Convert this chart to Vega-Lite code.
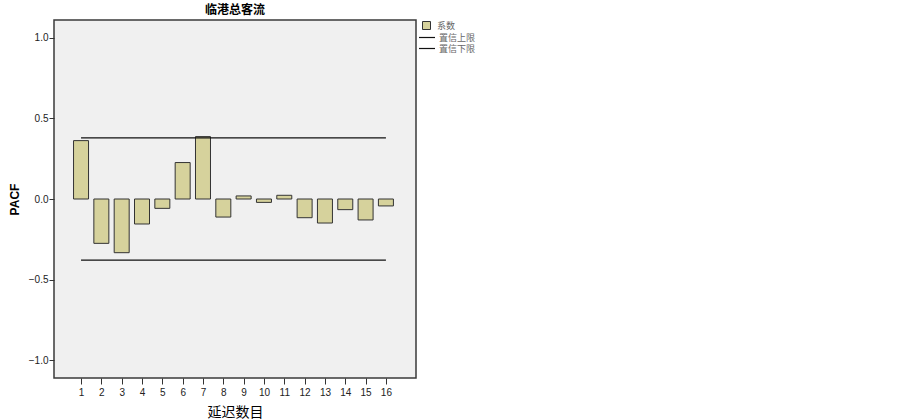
{
  "$schema": "https://vega.github.io/schema/vega-lite/v6.json",
  "autosize": "none",
  "width": 362,
  "height": 358,
  "padding": {"left": 54, "top": 20, "right": 487, "bottom": 42},
  "background": "#ffffff",
  "title": {"text": "临港总客流", "font": "Noto Sans CJK SC", "fontSize": 12, "fontWeight": "bold", "color": "#000000", "offset": 3},
  "datasets": {
    "pacf": [
      {"lag": 1, "pacf": 0.362},
      {"lag": 2, "pacf": -0.275},
      {"lag": 3, "pacf": -0.333},
      {"lag": 4, "pacf": -0.155},
      {"lag": 5, "pacf": -0.058},
      {"lag": 6, "pacf": 0.226},
      {"lag": 7, "pacf": 0.387},
      {"lag": 8, "pacf": -0.112},
      {"lag": 9, "pacf": 0.019},
      {"lag": 10, "pacf": -0.021},
      {"lag": 11, "pacf": 0.023},
      {"lag": 12, "pacf": -0.116},
      {"lag": 13, "pacf": -0.149},
      {"lag": 14, "pacf": -0.066},
      {"lag": 15, "pacf": -0.13},
      {"lag": 16, "pacf": -0.043}
    ],
    "limits": [
      {"lag": 1, "value": 0.379, "series": "置信上限"},
      {"lag": 16, "value": 0.379, "series": "置信上限"},
      {"lag": 1, "value": -0.379, "series": "置信下限"},
      {"lag": 16, "value": -0.379, "series": "置信下限"}
    ]
  },
  "layer": [
    {
      "data": {"name": "pacf"},
      "mark": {"type": "bar", "size": 15, "stroke": "#333333", "strokeWidth": 1},
      "encoding": {
        "x": {
          "field": "lag", "type": "quantitative",
          "scale": {"domain": [-0.33, 17.48], "nice": false, "zero": false, "padding": 0},
          "axis": {
            "values": [1,2,3,4,5,6,7,8,9,10,11,12,13,14,15,16], "tickCount": 40, "format": "d", "labelOverlap": false,
            "grid": false, "domain": false, "tickSize": 6, "tickColor": "#333333",
            "labelPadding": 3, "labelFont": "Liberation Sans", "labelFontSize": 10, "labelColor": "#222222",
            "title": "延迟数目", "titleFont": "Noto Sans CJK SC", "titleFontSize": 14, "titleFontWeight": "normal",
            "titleColor": "#000000", "titlePadding": 8
          }
        },
        "y": {
          "field": "pacf", "type": "quantitative",
          "scale": {"domain": [-1.11, 1.11], "nice": false, "zero": false},
          "axis": {
            "values": [-1, -0.5, 0, 0.5, 1], "tickCount": 20, "format": ".1f",
            "grid": false, "domain": false, "tickSize": 5, "tickColor": "#333333",
            "labelPadding": 1, "labelFont": "Liberation Sans", "labelFontSize": 10, "labelColor": "#222222",
            "title": "PACF", "titleFont": "Liberation Sans", "titleFontSize": 12, "titleFontWeight": "bold",
            "titleColor": "#000000", "titleX": -33, "titleY": 179
          }
        },
        "y2": {"datum": 0},
        "fill": {
          "datum": "系数", "type": "nominal",
          "scale": {"range": ["#d6d29c"]},
          "legend": {
            "title": null, "orient": "none", "legendX": 368, "legendY": 1,
            "symbolType": "square", "symbolSize": 64, "symbolStrokeColor": "#333333", "symbolStrokeWidth": 1,
            "labelOffset": 6, "labelFont": "Noto Sans CJK SC", "labelFontSize": 9, "labelColor": "#666666",
            "padding": 0
          }
        }
      }
    },
    {
      "mark": {"type": "rule", "color": "#000000", "strokeWidth": 1},
      "encoding": {"y": {"datum": 0}}
    },
    {
      "data": {"name": "limits"},
      "mark": {"type": "line", "strokeWidth": 1.2},
      "encoding": {
        "x": {"field": "lag", "type": "quantitative"},
        "y": {"field": "value", "type": "quantitative"},
        "stroke": {
          "field": "series", "type": "nominal",
          "scale": {"domain": ["置信上限", "置信下限"], "range": ["#111111", "#111111"]},
          "legend": {
            "title": null, "orient": "none", "legendX": 364, "legendY": 12,
            "symbolType": "stroke", "symbolSize": 256, "symbolStrokeWidth": 1.2,
            "clipHeight": 11, "rowPadding": 0,
            "labelOffset": 3, "labelFont": "Noto Sans CJK SC", "labelFontSize": 9, "labelColor": "#666666",
            "padding": 0
          }
        }
      }
    }
  ],
  "config": {
    "view": {"fill": "#f0f0f0", "stroke": "#3a3a3a", "strokeWidth": 1.5}
  }
}
